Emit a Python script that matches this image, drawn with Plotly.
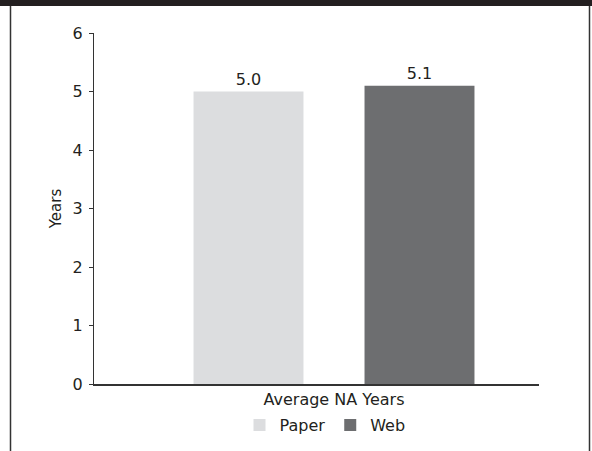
import plotly.graph_objects as go

categories = ["Average NA Years"]
series_names = ["Paper", "Web"]
paper_values = [5.0]
web_values = [5.1]
y_ticks = [0, 1, 2, 3, 4, 5, 6]

W, H = 592, 451
L, R, T, B = 94, 53, 33, 67
pw, ph = W - L - R, H - T - B

def px(x):
    return (x - L) / pw

def py(y):
    return (H - B - y) / ph

font_family = "'DejaVu Sans', 'Open Sans', sans-serif"
text_color = "#231f20"

fig = go.Figure()
fig.add_trace(go.Bar(
    name=series_names[0], x=categories, y=paper_values,
    marker=dict(color="#dcdddf", line=dict(width=0)),
    texttemplate="%{y:.1f}", textposition="outside",
    textfont=dict(size=16, color=text_color, family=font_family),
    cliponaxis=False,
))
fig.add_trace(go.Bar(
    name=series_names[1], x=categories, y=web_values,
    marker=dict(color="#6d6e70", line=dict(width=0)),
    texttemplate="%{y:.1f}", textposition="outside",
    textfont=dict(size=16, color=text_color, family=font_family),
    cliponaxis=False,
))

shapes = [
    dict(type="rect", xref="paper", yref="paper",
         x0=px(0), x1=px(W), y0=py(0), y1=py(6),
         fillcolor="#231f20", line=dict(width=0), layer="above"),
    dict(type="line", xref="paper", yref="paper",
         x0=px(10.5), x1=px(10.5), y0=py(6), y1=py(H),
         line=dict(color="#333333", width=1.5)),
    dict(type="line", xref="paper", yref="paper",
         x0=px(589.5), x1=px(589.5), y0=py(6), y1=py(H),
         line=dict(color="#333333", width=1.5)),
]

fig.update_layout(
    width=W, height=H,
    margin=dict(l=L, r=R, t=T, b=B, pad=0, autoexpand=False),
    paper_bgcolor="white", plot_bgcolor="white",
    font=dict(family=font_family, color=text_color, size=16),
    barmode="group", bargap=0.2315, bargroupgap=0.357,
    showlegend=True,
    legend=dict(orientation="h", xanchor="center", x=px(325), yanchor="middle", y=py(425),
                font=dict(size=16, color=text_color), itemwidth=30, traceorder="normal",
                bgcolor="rgba(0,0,0,0)", itemclick=False),
    shapes=shapes,
    xaxis=dict(range=[-(334 - L) / pw, 1 - (334 - L) / pw], showline=True,
               linecolor="#333333", linewidth=1.5, ticks="", showgrid=False,
               tickfont=dict(size=16, color=text_color), fixedrange=True),
    yaxis=dict(range=[0, 6], tickvals=y_ticks, showline=True, linecolor="#333333",
               linewidth=1, ticks="outside", ticklen=4, tickcolor="#333333",
               ticklabelstandoff=3,
               showgrid=False, zeroline=False, tickfont=dict(size=16, color=text_color),
               title=dict(text="Years", font=dict(size=15, color=text_color), standoff=7),
               fixedrange=True),
)

fig.write_html("out.html", config={"displayModeBar": False},
               post_script="document.body.style.margin='0';document.body.style.padding='0';")
